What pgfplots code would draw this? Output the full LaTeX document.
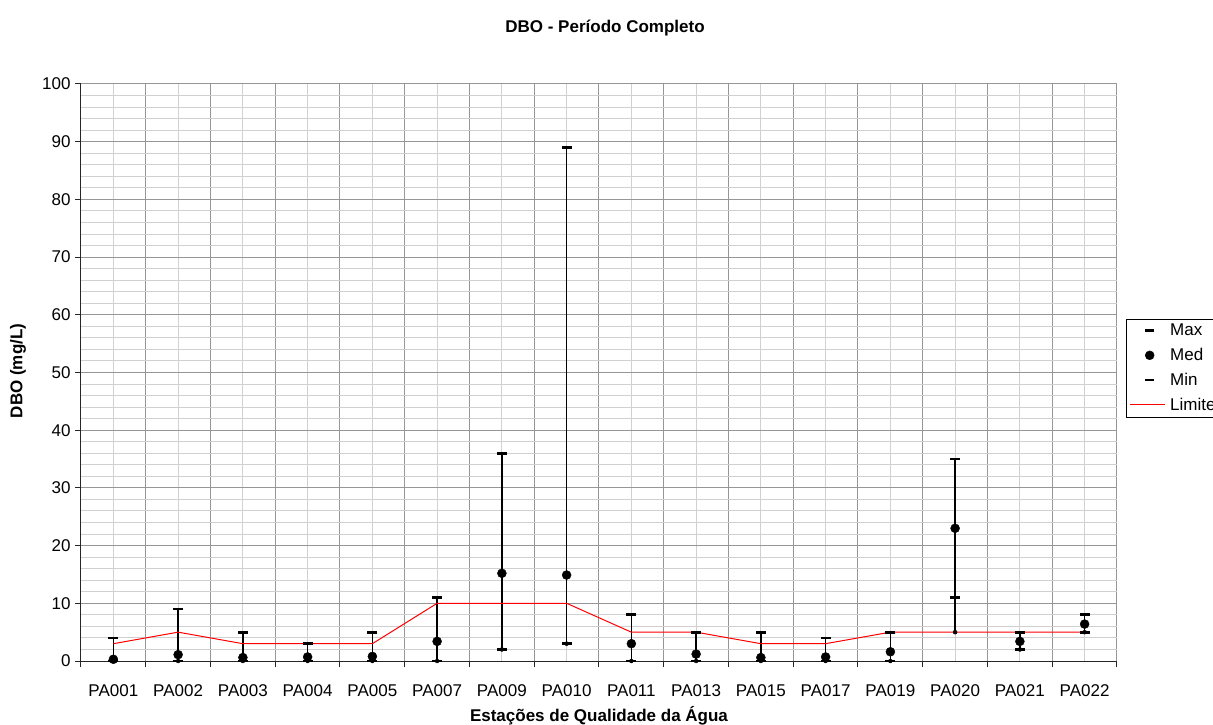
\documentclass[border=0pt]{standalone}
\usepackage{fontspec}
\setmainfont{Liberation Sans}
\usepackage{pgfplots}
\usepackage{pgfplotstable}
\pgfplotsset{compat=1.18}
\definecolor{majgrid}{RGB}{150,150,150}
\definecolor{mingrid}{RGB}{208,208,208}
\pgfplotsset{
  capleg/.style={legend image code/.code={\path[draw=none,fill=none] (0pt,0pt) -- (35pt,0pt); \draw[##1] plot coordinates {(20pt,0pt)};}},
  lineleg/.style={legend image code/.code={\draw[##1] (0pt,0pt) -- (35pt,0pt);}},
}
\pgfplotstableread{
x lo min med max hi lim
0 0 0 0.3 4 4 3
1 0 0 1.1 9 9 5
2 0 0 0.6 5 5 3
3 0 0 0.7 3 3 3
4 0 0 0.8 5 5 3
5 0 0 3.4 11 11 10
6 2 2 15.2 36 36 10
7 3 3 14.9 89 89 10
8 0 0 3.0 8 8 5
9 0 0 1.2 5 5 5
10 0 0 0.6 5 5 3
11 0 0 0.7 4 4 3
12 0 0 1.6 5 5 5
13 5 11 23.0 35 35 5
14 2 2 3.4 5 5 5
15 5 5 6.4 8 8 5
}\datatable
\begin{document}
\begin{tikzpicture}
\useasboundingbox (-81pt,-63pt) rectangle (1132pt,661pt);
\begin{axis}[
  at={(0pt,0pt)}, anchor=south west,
  scale only axis, width=1036pt, height=577pt,
  clip=false,
  xmin=-0.5, xmax=15.5, ymin=0, ymax=100,
  axis x line*=bottom, axis y line*=left,
  axis line style={-, black!85, line width=1pt},
  xtick={-0.5,0.5,...,15.5}, xticklabels={},
  minor xtick={0,...,15},
  extra x ticks={0,...,15},
  extra x tick labels={PA001,PA002,PA003,PA004,PA005,PA007,PA009,PA010,PA011,PA013,PA015,PA017,PA019,PA020,PA021,PA022},
  extra x tick style={grid=none, major tick length=0pt, tick label style={yshift=-20pt}},
  ytick={0,10,...,100},
  minor ytick={2,4,6,8,12,14,16,18,22,24,26,28,32,34,36,38,42,44,46,48,52,54,56,58,62,64,66,68,72,74,76,78,82,84,86,88,92,94,96,98},
  grid=both,
  major grid style={majgrid, line width=1pt},
  minor grid style={mingrid, line width=1pt},
  tick align=outside, major tick length=6pt, minor tick length=0pt,
  tick style={black!85, line width=1pt},
  /pgf/number format/assume math mode=true,
  tick label style={font=\fontsize{17}{20}\selectfont},
  yticklabel style={xshift=-1pt},
  title={DBO - Período Completo},
  title style={font=\bfseries\fontsize{17}{20}\selectfont, at={(axis description cs:0.5058,1.087)}, anchor=center},
  xlabel={Estações de Qualidade da Água},
  xlabel style={font=\bfseries\fontsize{17}{20}\selectfont, at={(axis description cs:0.5,-0.0953)}, anchor=center},
  ylabel={DBO (mg/L)},
  ylabel style={font=\bfseries\fontsize{17}{20}\selectfont, at={(axis description cs:-0.0608,0.5026)}, anchor=center},
  legend style={at={(axis description cs:1.0087,0.5927)}, anchor=north west, draw=black, fill=white,
    font=\fontsize{17}{20}\selectfont, legend cell align=left, row sep=7pt, column sep=3pt, inner sep=3pt},
]
\addplot[only marks, mark=none, forget plot, error bars/.cd, y dir=plus, y explicit, error mark=none,
  error bar style={black, line width=1.3pt}] table[x=x, y=lo, y error expr=\thisrow{hi}-\thisrow{lo}] {\datatable};
\addplot[red, line width=1pt, forget plot] table[x=x, y=lim] {\datatable};
\addplot[only marks, black, mark=-, mark size=5pt, mark options={line width=2.7pt}, forget plot] table[x=x, y=max] {\datatable};
\addplot[only marks, black, mark=-, mark size=5pt, mark options={line width=2.7pt}, forget plot] table[x=x, y=min] {\datatable};
\addplot[only marks, black, mark=*, mark size=4.5pt, forget plot] table[x=x, y=med] {\datatable};
\addlegendimage{only marks, black, mark=-, mark size=4.5pt, mark options={line width=2.7pt}, capleg}
\addlegendentry{Max}
\addlegendimage{only marks, black, mark=*, mark size=4.5pt, capleg}
\addlegendentry{Med}
\addlegendimage{only marks, black, mark=-, mark size=4.5pt, mark options={line width=2.7pt}, capleg}
\addlegendentry{Min}
\addlegendimage{red, line width=1pt, lineleg}
\addlegendentry{Limite}
\end{axis}
\end{tikzpicture}
\end{document}
